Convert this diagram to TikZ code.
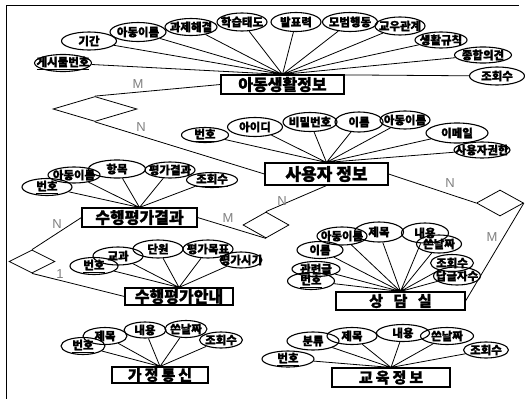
\documentclass[tikz,border=0pt]{standalone}
\usepackage{fontspec}
\usepackage{tikz}
\usetikzlibrary{shapes.geometric}
\newfontfamily\kr{Noto Sans CJK KR}[BoldFeatures={FakeBold=1.2}]
\newfontfamily\krwide{Noto Sans CJK KR}[LetterSpace=20, BoldFeatures={FakeBold=1.2}]
\newfontfamily\lat{Liberation Sans}

\begin{document}
\begin{tikzpicture}[
		x=1pt, y=-1pt,
		attr/.style={
			ellipse, draw, line width=1.1pt, inner sep=-30pt,
			minimum height=18pt, font={\kr\bfseries\fontsize{11.5}{11.5}\selectfont}
			},
		entity/.style={
			rectangle, draw, line width=1.1pt, inner sep=0pt,
			font={\kr\bfseries\fontsize{16}{16}\selectfont}
			},
		rel/.style={
			diamond, draw, line width=0.8pt, inner sep=0pt
			},
		link/.style={line width=0.8pt},
		card/.style={font={\lat\fontsize{13}{13}\selectfont}, text=gray}
		]
		\useasboundingbox (0,0) rectangle (525,399);
		\draw[line width=0.8pt] (6,399) -- (6,5) -- (519,5);
		
		% entities
		\node[entity, minimum width=123pt, minimum height=19pt] (life) at (282.5,84.5) {아동생활정보};
		\node[entity, minimum width=123pt, minimum height=22pt, font={\kr\bfseries\fontsize{17}{17}\selectfont}] (user) at (326.5,174) {사용자 정보};
		\node[entity, minimum width=115pt, minimum height=19pt] (result) at (139.5,217.5) {수행평가결과};
		\node[entity, minimum width=108pt, minimum height=17pt] (guide) at (179,296.5) {수행평가안내};
		\node[entity, minimum width=96pt, minimum height=16pt, font={\krwide\bfseries\fontsize{15}{15}\selectfont}] (home) at (160,375) {가정통신};
		\node[entity, minimum width=129pt, minimum height=18pt, font={\kr\bfseries\fontsize{15}{15}\selectfont}] (counsel) at (400.5,301) {상\hspace{.7em}담\hspace{.7em}실};
		\node[entity, minimum width=118pt, minimum height=19pt, font={\krwide\bfseries\fontsize{15}{15}\selectfont}] (edu) at (391,377.5) {교육정보};
		
		% relationships
		\node[rel, minimum width=84pt, minimum height=25pt] (r1) at (95,109) {};
		\node[rel, minimum width=47pt, minimum height=26pt] (r2) at (500,203) {};
		\node[rel, minimum width=46pt, minimum height=26pt] (r3) at (266,225) {};
		\node[rel, minimum width=46pt, minimum height=23pt] (r4) at (32,261.5) {};
		
		\draw[link] (r1.north) -- (life.west) (r1.south) -- (user.west);
		\draw[link] (user.east) -- (r2.west) (r2.east) -- (counsel.east);
		\draw[link] (r3.north) -- (user.south) (result.east) -- (r3.south);
		\draw[link] (r4.north) -- (result.west) (r4.south) -- (guide.west);
		
		\node[card] (c1) at (138,84) {M};
		\node[card] (c2) at (141,127) {N};
		\node[card] (c3) at (450,183) {N};
		\node[card] (c4) at (492,237) {M};
		\node[card] (c5) at (282,201) {N};
		\node[card] (c6) at (228,218) {M};
		\node[card] (c7) at (57,224) {N};
		\node[card] (c8) at (60,274) {1};
		
		% attributes of life
		\node[attr, minimum width=55pt] (lA) at (89,41) {기간};
		\node[attr, minimum width=56pt, minimum height=19pt] (lB) at (138,32) {아동이름};
		\node[attr, minimum width=52pt, minimum height=17pt] (lC) at (191,27) {과제해결};
		\node[attr, minimum width=50pt] (lD) at (242,22) {학습태도};
		\node[attr, minimum width=50pt, minimum height=19pt] (lE) at (296,22) {발표력};
		\node[attr, minimum width=55pt, minimum height=19pt] (lF) at (350,22) {모범행동};
		\node[attr, minimum width=50pt] (lG) at (400,26) {교우관계};
		\node[attr, minimum width=52pt, minimum height=16pt] (lH) at (441,40) {생활규칙};
		\node[attr, minimum width=57pt, minimum height=16pt] (lI) at (483,55) {종합의견};
		\node[attr, minimum width=55pt] (lJ) at (497,76) {조회수};
		\node[attr, minimum width=57pt, minimum height=17pt] (lK) at (63,63) {\underline{게시물번호}};
		\draw[link] (lA) -- (life.north) (lB) -- (life.north) (lC) -- (life.north) (lD) -- (life.north) (lE) -- (life.north) (lF) -- (life.north) (lG) -- (life.north) (lH) -- (life.north) (lI) -- (life.north) (lJ) -- (life.north) (lK) -- (life.north);
		
		% attributes of user
		\node[attr, minimum width=47pt, minimum height=15pt] (uA) at (205,135) {\underline{번호}};
		\node[attr, minimum width=55pt, minimum height=19pt] (uB) at (255,127) {아이디};
		\node[attr, minimum width=54pt, minimum height=19pt] (uC) at (310,122) {비밀번호};
		\node[attr, minimum width=48pt, minimum height=20pt] (uD) at (359,122) {이름};
		\node[attr, minimum width=50pt] (uE) at (405,120) {아동이름};
		\node[attr, minimum width=62pt, minimum height=20pt] (uF) at (457,133) {이메일};
		\node[attr, minimum width=56pt, minimum height=16pt] (uG) at (482,150) {사용자권한};
		\draw[link] (uA) -- (user.north) (uB) -- (user.north) (uC) -- (user.north) (uD) -- (user.north) (uE) -- (user.north) (uF) -- (user.north) (uG) -- (user.north);
		
		% attributes of result
		\node[attr, minimum width=50pt, minimum height=17pt] (rA) at (47,187) {\underline{번호}};
		\node[attr, minimum width=52pt, minimum height=16pt] (rB) at (74,175) {아동이름};
		\node[attr, minimum width=57pt] (rC) at (117,169) {항목};
		\node[attr, minimum width=50pt, minimum height=16pt] (rD) at (170,170) {평가결과};
		\node[attr, minimum width=51pt, minimum height=15pt] (rE) at (212,180) {\underline{조회수}};
		\draw[link] (rA) -- (result.north) (rB) -- (result.north) (rC) -- (result.north) (rD) -- (result.north) (rE) -- (result.north);
		
		% attributes of guide
		\node[attr, minimum width=48pt, minimum height=17pt] (gA) at (94,266) {\underline{번호}};
		\node[attr, minimum width=50pt] (gB) at (118,256) {교과};
		\node[attr, minimum width=50pt] (gC) at (158,249) {단원};
		\node[attr, minimum width=50pt] (gD) at (208,249) {평가목표};
		\node[attr, minimum width=42pt, minimum height=16pt] (gE) at (241,260) {평가시기};
		\draw[link] (gA) -- (guide.north) (gB) -- (guide.north) (gC) -- (guide.north) (gD) -- (guide.north) (gE) -- (guide.north);
		
		% attributes of home
		\node[attr, minimum width=44pt, minimum height=17pt] (hA) at (83,346) {\underline{번호}};
		\node[attr, minimum width=44pt, minimum height=17pt] (hB) at (105,336) {제목};
		\node[attr, minimum width=42pt, minimum height=16pt] (hC) at (145,330) {내용};
		\node[attr, minimum width=42pt, minimum height=17pt] (hD) at (186,329) {쓴날짜};
		\node[attr, minimum width=43pt, minimum height=16pt] (hE) at (221,340) {조회수};
		\draw[link] (hA) -- (home.north) (hB) -- (home.north) (hC) -- (home.north) (hD) -- (home.north) (hE) -- (home.north);
		
		% attributes of counsel
		\node[attr, minimum width=47pt, minimum height=17pt] (cA) at (311,281) {\underline{번호}};
		\node[attr, minimum width=48pt, minimum height=15pt] (cB) at (316,269) {관련글};
		\node[attr, minimum width=46pt, minimum height=17pt] (cC) at (320,250) {이름};
		\node[attr, minimum width=50pt] (cD) at (342,236) {아동이름};
		\node[attr, minimum width=49pt, minimum height=20pt] (cE) at (379,232) {제목};
		\node[attr, minimum width=47pt, minimum height=20pt] (cF) at (425,233) {내용};
		\node[attr, minimum width=45pt] (cG) at (439,244) {쓴날짜};
		\node[attr, minimum width=43pt, minimum height=17pt] (cH) at (452,263) {조회수};
		\node[attr, minimum width=47pt] (cI) at (457,276) {답글자수};
		\draw[link] (cA) -- (counsel.north) (cB) -- (counsel.north) (cC) -- (counsel.north) (cD) -- (counsel.north) (cE) -- (counsel.north) (cF) -- (counsel.north) (cG) -- (counsel.north) (cH) -- (counsel.north) (cI) -- (counsel.north);
		
		% attributes of edu
		\node[attr, minimum width=52pt, minimum height=16pt] (dA) at (288,359) {\underline{번호}};
		\node[attr, minimum width=52pt] (dB) at (313,341) {분류};
		\node[attr, minimum width=50pt, minimum height=17pt] (dC) at (352,336) {제목};
		\node[attr, minimum width=53pt, minimum height=17pt] (dD) at (403,333) {내용};
		\node[attr, minimum width=53pt, minimum height=17pt] (dE) at (447,336) {쓴날짜};
		\node[attr, minimum width=45pt, minimum height=16pt] (dF) at (486,350) {조회수};
		\draw[link] (dA) -- (edu.north) (dB) -- (edu.north) (dC) -- (edu.north) (dD) -- (edu.north) (dE) -- (edu.north) (dF) -- (edu.north);
	\end{tikzpicture}
\end{document}
